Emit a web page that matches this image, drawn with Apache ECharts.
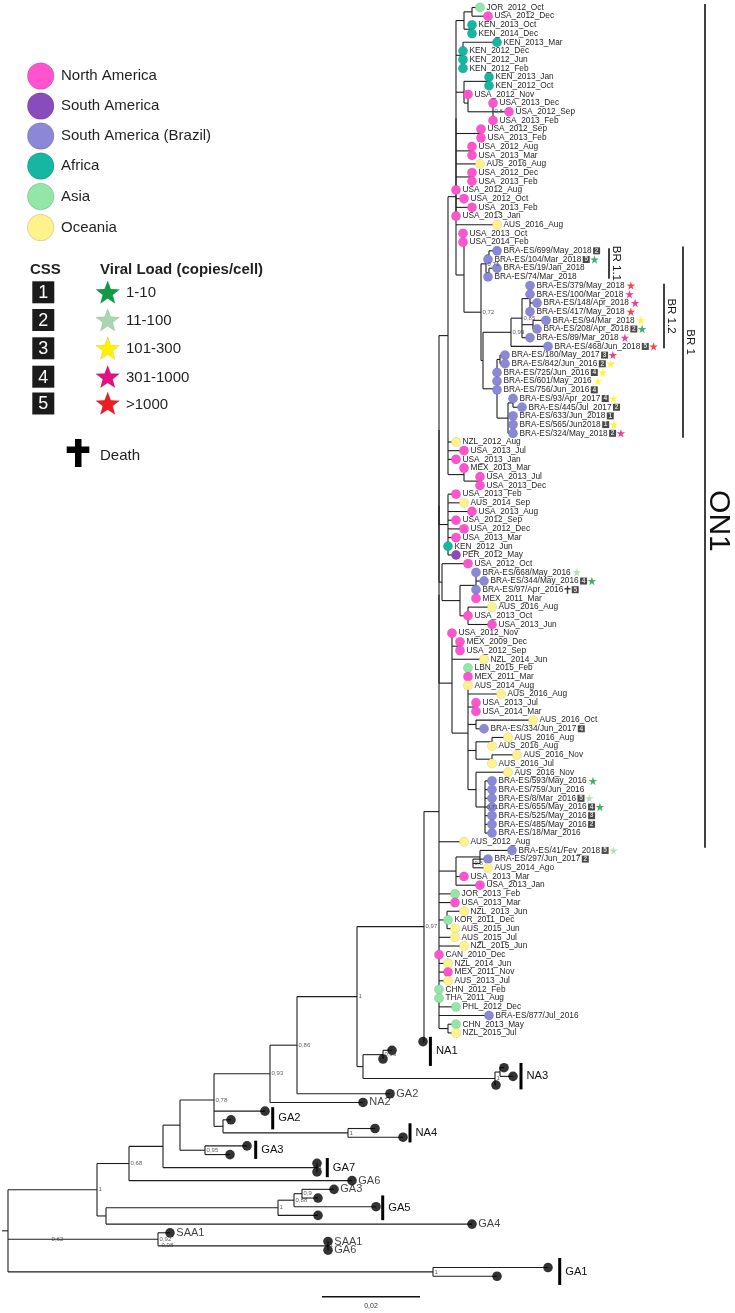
<!DOCTYPE html>
<html><head><meta charset="utf-8">
<script src="https://cdn.jsdelivr.net/npm/echarts@6/dist/echarts.min.js"></script>
<style>html,body{margin:0;padding:0;background:#fff}#c{width:735px;height:1313px}</style>
</head><body><div id="c"></div>
<script>
// ---------------- DATA ----------------
// Tips in tree order. Region: N North America, S South America, B Brazil, F Africa, A Asia, O Oceania, G reference genotype
const tipNames = [
'JOR_2012_Oct','USA_2012_Dec','KEN_2013_Oct','KEN_2014_Dec','KEN_2013_Mar','KEN_2012_Dec','KEN_2012_Jun','KEN_2012_Feb','KEN_2013_Jan','KEN_2012_Oct',
'USA_2012_Nov','USA_2013_Dec','USA_2012_Sep','USA_2013_Feb','USA_2012_Sep','USA_2013_Feb','USA_2012_Aug','USA_2013_Mar','AUS_2016_Aug','USA_2012_Dec',
'USA_2013_Feb','USA_2012_Aug','USA_2012_Oct','USA_2013_Feb','USA_2013_Jan','AUS_2016_Aug','USA_2013_Oct','USA_2014_Feb','BRA-ES/699/May_2018','BRA-ES/104/Mar_2018',
'BRA-ES/19/Jan_2018','BRA-ES/74/Mar_2018','BRA-ES/379/May_2018','BRA-ES/100/Mar_2018','BRA-ES/148/Apr_2018','BRA-ES/417/May_2018','BRA-ES/94/Mar_2018','BRA-ES/208/Apr_2018','BRA-ES/89/Mar_2018','BRA-ES/468/Jun_2018',
'BRA-ES/180/May_2017','BRA-ES/842/Jun_2016','BRA-ES/725/Jun_2016','BRA-ES/601/May_2016','BRA-ES/756/Jun_2016','BRA-ES/93/Apr_2017','BRA-ES/445/Jul_2017','BRA-ES/633/Jun_2018','BRA-ES/565/Jun2018','BRA-ES/324/May_2018',
'NZL_2012_Aug','USA_2013_Jul','USA_2013_Jan','MEX_2013_Mar','USA_2013_Jul','USA_2013_Dec','USA_2013_Feb','AUS_2014_Sep','USA_2013_Aug','USA_2012_Sep',
'USA_2012_Dec','USA_2013_Mar','KEN_2012_Jun','PER_2012_May','USA_2012_Oct','BRA-ES/668/May_2016','BRA-ES/344/May_2016','BRA-ES/97/Apr_2016','MEX_2011_Mar','AUS_2016_Aug',
'USA_2013_Oct','USA_2013_Jun','USA_2012_Nov','MEX_2009_Dec','USA_2012_Sep','NZL_2014_Jun','LBN_2015_Feb','MEX_2011_Mar','AUS_2014_Aug','AUS_2016_Aug',
'USA_2013_Jul','USA_2014_Mar','AUS_2016_Oct','BRA-ES/334/Jun_2017','AUS_2016_Aug','AUS_2016_Aug','AUS_2016_Nov','AUS_2016_Jul','AUS_2016_Nov','BRA-ES/593/May_2016',
'BRA-ES/759/Jun_2016','BRA-ES/8/Mar_2016','BRA-ES/655/May_2016','BRA-ES/525/May_2016','BRA-ES/485/May_2016','BRA-ES/18/Mar_2016','AUS_2012_Aug','BRA-ES/41/Fev_2018','BRA-ES/297/Jun_2017','AUS_2014_Ago',
'USA_2013_Mar','USA_2013_Jan','JOR_2013_Feb','USA_2013_Mar','NZL_2013_Jun','KOR_2011_Dec','AUS_2015_Jun','AUS_2015_Jul','NZL_2015_Jun','CAN_2010_Dec',
'NZL_2014_Jun','MEX_2011_Nov','AUS_2013_Jul','CHN_2012_Feb','THA_2011_Aug','PHL_2012_Dec','BRA-ES/877/Jul_2016','CHN_2013_May','NZL_2015_Jul','',
'','','','','','GA2','NA2','','','',
'','','','','','GA6','GA3','','','',
'GA4','SAA1','SAA1','GA6','',''
];
const tipRegion = ('ANFFFFFFFF'+'NNNNNNNNON'+'NNNNNONNBB'+'BBBBBBBBBB'+'BBBBBBBBBB'+'ONNNNNNONN'+'NNFSNBBBNO'+
  'NNNNNOANOO'+'NNOBOOOOOB'+'BBBBBBOBBO'+'NNANOAOOON'+'ONOAAABAOG'+'GGGGGGGGGGGGGGGGGGGGGGGGGG').split('');
// divergence of each tip from the root (1 unit = 0.02/98 subst./site)
const tipX = [
472,480,464,464,489,455,455,455,481,481,
460,485,501,485,473,473,464,464,472,464,
464,448,456,464,448,489,455,455,489,480,
489,480,522,522,529,522,538,529,522,540,
497,497,489,489,489,505,514,505,505,505,
448,456,448,456,472,472,448,456,464,448,
456,448,440,448,460,468,476,468,468,484,
460,484,444,452,452,476,460,460,460,493,
468,468,525,476,500,484,509,484,500,484,
484,484,484,484,484,484,456,504,480,480,
456,472,447,447,456,440,447,447,456,431,
440,440,440,431,431,448,481,448,448,415,
384,375,496,505,488,382,355,257,223,367,
395,239,222,309,309,344,326,310,368,310,
464,162,320,320,540,489
];
// clinical severity score and viral-load class (1..5) of the sequenced Brazilian patients
const tipCSS = {28:2,29:5,37:2,39:5,40:3,41:2,42:4,44:4,45:4,46:2,47:1,48:1,49:2,66:4,67:5,83:4,91:5,92:4,93:3,94:2,97:5,98:2};
const tipVL  = {29:1,32:5,33:4,34:4,35:5,36:3,37:1,38:4,39:5,40:4,41:3,42:3,43:3,45:3,48:3,49:4,65:2,66:1,89:1,91:2,92:1,97:2};
const tipDeath = [67];

// Tree topology: [nodeDivergence, support, ...children]; integers are tip indices
const A  = [456,'',[464,'',0,1],[464,'',2,3]];
const B  = [455,'',4,5,6,7];
const C  = [456,'',[481,'',8,9],[460,'',10,[485,'0,8',11,12,13]]];
const T  = [448,'',A,B,C,[473,'',14,15],[464,'',16,17],18,[464,'',19,20],21,22,23,24];
const N11 = [478,'0,71',[481,'',28,29],[481,'',30,31]];
const N12 = [503,'0,99',[514,'0,85',[522,'',32,33,34,35],[525,'',36,37],38],39];
const B2  = [489,'',[492,'',40,41],42,43,44,[500,'',[505,'',45,46],47,48,49]];
const BR1 = [473,'0,72',N11,[475,'',N12,B2]];
const S  = [456,'',[456,'',26,27],BR1];
const R  = [448,'',T,25,S];
const W  = [440,'',R,50,51,52,[456,'',53,[472,'',54,55]]];
const V  = [440,'',56,57,58,59,60,61,62,63];
const X1 = [434,'',64,[452,'',[468,'',65,66,67,68],[460,'',69,70,71]]];
const Z  = [460,'',[460,'',76,77,78],79,[468,'',80,81],[468,'',82,83],[468,'',[484,'',84,85],[484,'',86,87]],[468,'',88,[477,'0,71',89,90,91,92,93,94,95]]];
const Y  = [444,'',72,[452,'',73,74],75,Z];
const L1 = [431,'',[431,'',[431,'',W,V],X1],Y];
const P0 = [431,'',L1,96,[448,'',[472,'',97,[465,'0,8',98,99]],100,101],102,103,[439,'',104,105,106],107,108,109,110,111,112,113,114,115,116,[440,'',117,118]];
const ON1 = [416,'0,97',P0,119];
const N357 = [349,'1',ON1,[355,'',[375,'0,99',120,121],[487,'1',[492,'',122,123],124]]];
const N078 = [206,'0,78',[262,'0,93',[289,'0,86',N357,125],126],127,[215,'',128,[340,'1',129,130]]];
const N068 = [121,'0,68',[155,'',[172,'',N078,[197,'0,95',131,132]],[309,'1',133,134]],135];
const N106 = [98,'',[270,'1',[286,'0,88',[294,'0,9',136,137],138],139],140];
const N062 = [42,'0,62',[150,'0,92',141,[152,'0,98',[320,'1',142,143]]]];
const tree = [0,'',[89,'1',N068,N106],N062,[425,'1',144,145]];

// clade annotation bars: [label, firstTip, lastTip]
const cladeBars = [['BR 1.1',28,31],['BR 1.2',32,39],['BR 1',28,49],['ON1',0,96]];
const genoBars = [['NA1',119,121],['NA3',122,124],['GA2',127,128],['NA4',129,130],['GA3',131,132],['GA7',133,134],['GA5',137,139],['GA1',144,145]];
const regionNames = ['North America','South America','South America (Brazil)','Africa','Asia','Oceania'];
const cssLevels = ['1','2','3','4','5'];
const vlLevels = ['1-10','11-100','101-300','301-1000','>1000'];
const scaleBarValue = 0.02;

// ---------------- STYLE / LAYOUT ----------------
const UNITS_PER_SUBST = 98 / 0.02;
const regionColor = {N:'#ff53cf',S:'#8a4cbc',B:'#8b88d8',F:'#16b6a0',A:'#94e5a8',O:'#fff28c',G:'#000'};
const regionOrder = ['N','S','B','F','A','O'];
const vlColor = ['', '#119a44', '#a9d5b3', '#fff200', '#e2127f', '#ec1c24'];
const STAR = 'path://M50,0 L61.2,34.5 L97.6,34.5 L68.2,55.9 L79.4,90.5 L50,69.1 L20.6,90.5 L31.8,55.9 L2.4,34.5 L38.8,34.5 Z';
const CROSS = 'path://M38,0 H62 V28 H100 V48 H62 V100 H38 V48 H0 V28 H38 Z';
const ROW_PX = 8.69, TOP_PX = 7.5, H = 1313, W_PX = 735;
const rowOfTip = i => i + (i >= 144 ? 1 : 0);   // an empty row precedes GA1
const TXT = '#231f20';
const tipFont = 8.3;
const FONT = '"Liberation Sans", Arial, sans-serif';

const ctx = document.createElement('canvas').getContext('2d');
ctx.font = tipFont + 'px ' + FONT;
const tw = s => ctx.measureText(s).width;

// layout the tree (node placed midway between its first and last child)
const segs = [], supports = [];
function lay(n) {
  if (typeof n === 'number') return {x: tipX[n], y: rowOfTip(n)};
  const [x, sup, ...kids] = n;
  const ch = kids.map(lay);
  const y = (ch[0].y + ch[ch.length - 1].y) / 2;
  if (ch.length > 1) segs.push([x, ch[0].y, x, ch[ch.length - 1].y]);
  ch.forEach(c => segs.push([x, c.y, c.x, c.y]));
  if (sup) supports.push([x, y, sup]);
  return {x, y};
}
const root = lay(tree);
segs.push([root.x - 6, root.y, root.x, root.y]);

const tipPts = [], geoPts = [], boxPts = [], starPts = [1,2,3,4,5].map(() => []), deathPts = [];
tipNames.forEach((nm, i) => {
  const r = tipRegion[i], row = rowOfTip(i);
  if (r === 'G') { geoPts.push({value: [tipX[i], row], name: nm}); return; }
  tipPts.push({value: [tipX[i], row], name: nm, itemStyle: {color: regionColor[r]}});
  let cur = tipX[i] + 6.3 + tw(nm);
  if (tipDeath.includes(i)) { deathPts.push([cur + 4.5, row]); cur += 7; }
  if (tipCSS[i]) { boxPts.push({value: [cur + 5.2, row], name: String(tipCSS[i])}); cur += 8.5; }
  if (tipVL[i]) starPts[tipVL[i] - 1].push([cur + (tipCSS[i] ? 5 : 6.5), row]);
});

const yMin = -TOP_PX / ROW_PX, yMax = yMin + H / ROW_PX;
const rowOf = py => (py - TOP_PX) / ROW_PX;

const chart = echarts.init(document.getElementById('c'), null, {renderer: 'canvas'});

const cladeLayout = {'BR 1.1': {x: 601, ext: [-0.3, 0.2], font: 11.5, off: 0}, 'BR 1.2': {x: 656, ext: [-0.2, 0.2], font: 11.5, off: 0},
  'BR 1': {x: 675, ext: [-0.5, 0.5], font: 11.5, off: 0}, 'ON1': {x: 697, ext: [-0.4, 0.7], font: 30, off: 95}};
const genoLayout = {NA1: [7.4, -0.55, 0.8], NA3: [8, -0.55, 0.5], GA2: [7.7, -0.45, 1.1], NA4: [7, -0.6, 0.6], GA3: [8.7, -0.6, 0.5],
  GA7: [10.3, -0.6, 0.6], GA5: [6.7, -0.3, 0.55], GA1: [11.7, -1.1, 1.0]};

function starPoly(cx, cy, R) {
  const p = [], r = R * 0.42;
  for (let k = 0; k < 10; k++) {
    const a = -Math.PI / 2 + k * Math.PI / 5, rr = k % 2 ? r : R;
    p.push([cx + rr * Math.cos(a), cy + rr * Math.sin(a)]);
  }
  return p;
}

const series = [
  { type: 'custom', name: 'branches', coordinateSystem: 'cartesian2d', data: segs, silent: true,
    encode: {x: [0, 2], y: [1, 3]},
    renderItem: (p, api) => {
      const a = api.coord([api.value(0), api.value(1)]), b = api.coord([api.value(2), api.value(3)]);
      return {type: 'line', shape: {x1: a[0], y1: a[1], x2: b[0], y2: b[1]}, style: {stroke: '#1e1e1e', lineWidth: 1.1}};
    } },
  { type: 'scatter', name: 'tips', data: tipPts, symbolSize: 9.4, z: 3,
    itemStyle: {borderColor: 'rgba(0,0,0,0.15)', borderWidth: 0.5, opacity: 1},
    label: {show: true, position: 'right', distance: 1.6, formatter: '{b}', fontSize: tipFont, color: TXT, fontFamily: FONT} },
  { type: 'scatter', name: 'refs', data: geoPts, symbolSize: 9.6, z: 3, itemStyle: {color: '#000'},
    label: {show: true, position: 'right', distance: 1.5, formatter: '{b}', fontSize: 11, color: '#111', fontFamily: FONT} },
  { type: 'scatter', name: 'css', data: boxPts, symbol: 'rect', symbolSize: 7, z: 4, itemStyle: {color: '#1b1b1b'},
    label: {show: true, position: 'inside', formatter: '{b}', fontSize: 6.5, fontWeight: 'bold', color: '#fff', fontFamily: FONT} },
  ...starPts.map((d, k) => ({type: 'scatter', name: 'vl' + (k + 1), data: d, symbol: STAR, symbolSize: 8.5, z: 4,
    itemStyle: {color: vlColor[k + 1]}})),
  { type: 'scatter', name: 'death', data: deathPts, symbol: CROSS, symbolSize: [6, 8], z: 4, itemStyle: {color: '#111'} },
  { type: 'scatter', name: 'support', data: supports.map(s => ({value: [s[0], s[1]], name: s[2]})), symbolSize: 0.1, z: 5,
    label: {show: true, position: 'right', distance: 1.5, formatter: '{b}', fontSize: 6, color: '#333', fontFamily: FONT} },
  { type: 'custom', name: 'clades', coordinateSystem: 'cartesian2d', silent: true,
    data: cladeBars.map(c => [cladeLayout[c[0]].x, rowOfTip(c[1]) + cladeLayout[c[0]].ext[0], rowOfTip(c[2]) + cladeLayout[c[0]].ext[1]]),
    encode: {x: 0, y: [1, 2]},
    renderItem: (p, api) => {
      const c = cladeBars[p.dataIndex], L = cladeLayout[c[0]];
      const a = api.coord([api.value(0), api.value(1)]), b = api.coord([api.value(0), api.value(2)]);
      return {type: 'group', children: [
        {type: 'line', shape: {x1: a[0], y1: a[1], x2: b[0], y2: b[1]}, style: {stroke: '#111', lineWidth: 1.6}},
        {type: 'text', x: a[0] + L.font * 0.35 + 3, y: (a[1] + b[1]) / 2 + L.off, rotation: -Math.PI / 2,
          style: {text: c[0], fontSize: L.font, fontFamily: FONT, fill: '#111', align: 'center', verticalAlign: 'middle'}}
      ]};
    } },
  { type: 'custom', name: 'genotypes', coordinateSystem: 'cartesian2d', silent: true,
    data: genoBars.map(gb => { const L = genoLayout[gb[0]];
      return [Math.max(...tipX.slice(gb[1], gb[2] + 1)) + L[0], rowOfTip(gb[1]) + L[1], rowOfTip(gb[2]) + L[2]]; }),
    encode: {x: 0, y: [1, 2]},
    renderItem: (p, api) => {
      const gb = genoBars[p.dataIndex];
      const a = api.coord([api.value(0), api.value(1)]), b = api.coord([api.value(0), api.value(2)]);
      return {type: 'group', children: [
        {type: 'line', shape: {x1: a[0], y1: a[1], x2: b[0], y2: b[1]}, style: {stroke: '#000', lineWidth: 3}},
        {type: 'text', x: a[0] + 5.5, y: (a[1] + b[1]) / 2, style: {text: gb[0], fontSize: 11.2, fontFamily: FONT, fill: '#111', verticalAlign: 'middle'}}
      ]};
    } },
  { type: 'custom', name: 'scalebar', coordinateSystem: 'cartesian2d', silent: true,
    data: [[314, rowOf(1296.7), scaleBarValue]], encode: {x: 0, y: 1},
    renderItem: (p, api) => {
      const a = api.coord([api.value(0), api.value(1)]);
      const b = api.coord([api.value(0) + api.value(2) * UNITS_PER_SUBST, api.value(1)]);
      return {type: 'group', children: [
        {type: 'line', shape: {x1: a[0], y1: a[1], x2: b[0], y2: b[1]}, style: {stroke: '#111', lineWidth: 1.6}},
        {type: 'text', x: (a[0] + b[0]) / 2, y: a[1] + 9, style: {text: String(api.value(2)).replace('.', ','), fontSize: 7, fontFamily: FONT, fill: '#333', align: 'center', verticalAlign: 'middle'}}
      ]};
    } }
];

// legend (graphic)
const g = [];
regionOrder.forEach((r, i) => {
  const cy = [76, 106, 136, 166, 196.5, 227.5][i];
  g.push({type: 'circle', shape: {cx: 40.7, cy, r: 13.3}, style: {fill: regionColor[r], stroke: 'rgba(0,0,0,0.18)', lineWidth: 0.8}});
  g.push({type: 'text', x: 61, y: cy, style: {text: regionNames[i], fontSize: 15, fontFamily: FONT, fill: TXT, verticalAlign: 'middle'}});
});
g.push({type: 'text', x: 30, y: 269.5, style: {text: 'CSS', fontSize: 15, fontWeight: 'bold', fontFamily: FONT, fill: TXT, verticalAlign: 'middle'}});
g.push({type: 'text', x: 100, y: 269.5, style: {text: 'Viral Load (copies/cell)', fontSize: 15, fontWeight: 'bold', fontFamily: FONT, fill: TXT, verticalAlign: 'middle'}});
cssLevels.forEach((t, i) => {
  const cy = [292.3, 320, 348.3, 376.7, 403.5][i];
  g.push({type: 'rect', shape: {x: 32.3, y: cy - 11, width: 22, height: 22}, style: {fill: '#1b1b1b'}});
  g.push({type: 'text', x: 43.3, y: cy + 1, style: {text: t, fontSize: 18, fontFamily: FONT, fill: '#fff', align: 'center', verticalAlign: 'middle'}});
  g.push({type: 'polygon', shape: {points: starPoly(107.7, cy + 1, 12.5)}, style: {fill: vlColor[i + 1], stroke: 'rgba(0,0,0,0.15)', lineWidth: 0.5}});
  g.push({type: 'text', x: 126, y: cy + 1, style: {text: vlLevels[i], fontSize: 15, fontFamily: FONT, fill: TXT, verticalAlign: 'middle'}});
});
g.push({type: 'polygon', shape: {points: [[75,439],[81.5,439],[81.5,446.5],[89.3,446.5],[89.3,453],[81.5,453],[81.5,467],[75,467],[75,453],[66.7,453],[66.7,446.5],[75,446.5]]}, style: {fill: '#000'}});
g.push({type: 'text', x: 100, y: 455.5, style: {text: 'Death', fontSize: 15, fontFamily: FONT, fill: TXT, verticalAlign: 'middle'}});

chart.setOption({
  animation: false,
  grid: {left: 0, right: 0, top: 0, bottom: 0},
  xAxis: {type: 'value', min: -8, max: W_PX - 8, show: false},
  yAxis: {type: 'value', min: yMin, max: yMax, inverse: true, show: false},
  series,
  graphic: g
});
</script></body></html>
